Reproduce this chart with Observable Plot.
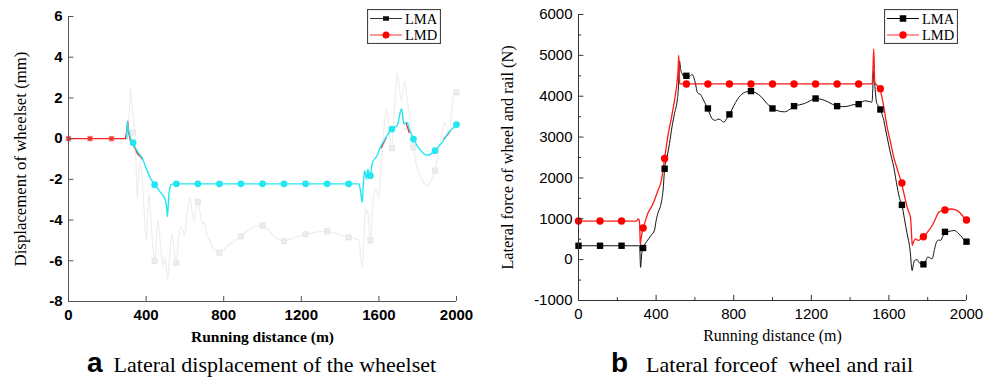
<!DOCTYPE html>
<html><head><meta charset="utf-8">
<script src="https://cdn.jsdelivr.net/npm/d3@7"></script>
<script src="https://cdn.jsdelivr.net/npm/@observablehq/plot@0.6"></script>
<style>
body{margin:0;background:#fff}
#root{position:relative;width:994px;height:379px;overflow:hidden;background:#fff}
.cap{position:absolute;display:flex;align-items:baseline;white-space:pre;line-height:1;color:#000}
.cap .l{font-family:"Liberation Sans",Arial,sans-serif;font-weight:bold;font-size:28px}
.cap .t{font-family:"Liberation Serif","Times New Roman",serif;font-size:22px}
</style></head>
<body><div id="root"></div>
<script>
// ---------- shared ----------
const xTicks = [0, 400, 800, 1200, 1600, 2000];
const xMinorB = [200, 600, 1000, 1400, 1800];
const markerX = [0, 111, 222, 333, 444, 556, 667, 778, 889, 1000, 1111, 1222, 1333, 1444, 1556, 1667, 1778, 1889, 2000];
const seriesNames = ["LMA", "LMD"];

// ---------- panel a: lateral displacement of the wheelset (mm) ----------
const dispTicks = [-8, -6, -4, -2, 0, 2, 4, 6];
const dispLmaX = [0,111,222,300,308,314,320,328,340,348,354,362,371,380,390,402,408,414,424,434,444,452,460,468,478,488,496,504,512,520,527,534,544,555,566,577,588,598,610,625,636,646,656,667,678,689,700,715,730,745,760,778,800,830,860,889,920,955,1000,1030,1060,1093,1111,1150,1190,1222,1270,1333,1390,1444,1475,1497,1506,1514,1522,1531,1537,1543,1550,1556,1565,1574,1587,1600,1608,1617,1628,1639,1651,1660,1667,1674,1680,1688,1694,1702,1715,1724,1732,1742,1754,1766,1778,1796,1814,1834,1852,1870,1889,1905,1918,1930,1940,1950,1960,1972,1983,1992,2000];
const dispLmaY = [0,0,0,0,0.4,1.6,2.5,1.5,0.5,-1.2,-3.0,-1.8,-1.1,-2.0,-3.5,-5.0,-3.8,-2.7,-3.8,-5.2,-6.0,-5.2,-4.0,-4.6,-5.6,-6.3,-5.8,-6.3,-6.9,-6.0,-5.0,-4.7,-5.4,-6.1,-5.0,-4.3,-4.5,-4.8,-3.8,-2.9,-3.5,-4.0,-3.5,-3.1,-3.6,-4.2,-4.1,-4.8,-5.0,-5.4,-5.5,-5.6,-5.45,-5.2,-5.0,-4.8,-4.55,-4.35,-4.27,-4.5,-4.8,-5.0,-5.04,-4.9,-4.8,-4.7,-4.6,-4.55,-4.7,-4.85,-4.9,-5.0,-5.8,-6.3,-5.0,-3.4,-3.7,-3.5,-4.5,-5.0,-3.8,-2.7,-2.5,-2.9,-1.8,-0.6,0.7,1.46,0.55,-0.2,-0.46,0.4,1.37,2.5,3.25,2.8,1.86,2.3,2.84,2.2,1.37,0.4,-0.43,-1.4,-1.9,-2.2,-2.36,-2.0,-1.57,-0.8,-0.1,0.5,0.8,0.5,0.15,1.0,2.03,2.3,2.27];
const dispLmaMarkers = [0,0,0,0.3,-6.0,-6.1,-3.1,-5.6,-4.8,-4.27,-5.04,-4.7,-4.55,-4.85,-5.0,-0.46,-0.43,-1.57,2.27];

const dispLmdX = [0,294,300,305,309,314,320,333,345,356,368,380,null,1612,1625,1637,null,1740,1748,1756,null,1935,1950,1965];
const dispLmdY = [0,0,0.35,0.85,0.4,0.1,-0.15,-0.3,-0.5,-0.75,-0.85,-1.0,NaN,-0.45,-0.2,0.05,NaN,0.75,0.55,0.3,NaN,0.0,0.15,0.35];
const dispLmdMarkerX = [0, 111, 222];
const dispLmdMarkers = [0, 0, 0];

const dispCyanX = [300,303,308,315,322,333,345,354,368,380,392,405,420,432,444,460,474,488,500,506,510,514,518,522,530,543,1497,1505,1514,1520,1526,1531,1536,1543,1550,1556,1565,1578,1591,1604,1617,1630,1643,1656,1667,1680,1694,1702,1708,1717,1723,1729,1738,1746,1754,1766,1778,1797,1815,1832,1846,1858,1872,1889,1908,1926,1943,1960,1980,2000];
const dispCyanY = [0,0.85,0.5,0.2,-0.05,-0.2,-0.45,-0.6,-0.8,-0.95,-1.25,-1.57,-1.9,-2.1,-2.26,-2.45,-2.64,-2.8,-3.05,-3.4,-3.83,-3.3,-2.7,-2.45,-2.25,-2.22,-2.22,-2.55,-3.13,-2.2,-1.57,-1.75,-1.98,-1.5,-1.7,-1.82,-1.24,-1.0,-0.84,-0.5,-0.26,-0.05,0.15,0.35,0.47,0.55,0.65,0.9,1.21,1.46,1.1,0.72,0.78,0.8,0.55,0.25,-0.02,-0.34,-0.58,-0.75,-0.8,-0.8,-0.72,-0.59,-0.38,-0.18,0.06,0.31,0.5,0.69];
const dispCyanMarkerX = markerX.slice(3);
const dispCyanMarkers = [-0.2,-2.26,-2.22,-2.22,-2.22,-2.22,-2.22,-2.22,-2.22,-2.22,-2.22,-1.82,0.47,-0.02,-0.59,0.69];

// ---------- panel b: lateral force of wheel and rail (N) ----------
const forceTicks = [-1000, 0, 1000, 2000, 3000, 4000, 5000, 6000];
const forceMinor = [-500, 500, 1500, 2500, 3500, 4500, 5500];
const forceLmaX = [0,315,320,326,333,345,357,375,392,400,409,426,436,444,456,469,482,495,509,515,521,527,534,545,555,570,586,595,603,612,620,628,637,650,667,678,689,698,706,718,732,742,749,765,778,801,835,860,889,915,942,970,1000,1030,1062,1090,1111,1140,1165,1195,1222,1255,1285,1310,1333,1360,1388,1415,1444,1474,1490,1503,1510,1514,1518,1522,1527,1536,1546,1556,1565,1574,1582,1593,1605,1625,1643,1655,1667,1680,1694,1704,1711,1716,1720,1726,1732,1746,1753,1760,1768,1778,1790,1800,1806,1815,1823,1835,1845,1856,1866,1878,1889,1910,1935,1948,1960,1975,1986,2000];
const forceLmaY = [340,340,-190,150,285,400,480,600,725,950,1130,1380,1700,2225,2500,2844,3250,3578,3904,4200,4857,4650,4549,4480,4500,4480,4532,4450,4304,4100,4059,4050,3977,3850,3692,3550,3447,3420,3406,3440,3423,3380,3365,3460,3553,3773,4018,4100,4123,4080,3985,3830,3700,3640,3618,3680,3757,3790,3822,3890,3944,3920,3863,3800,3757,3745,3757,3790,3806,3887,3880,3863,3850,3900,4300,4613,4300,3854,3760,3675,3550,3406,3203,2950,2672,2263,1774,1500,1343,1000,633,400,143,-150,-265,-120,-20,0,-60,-87,-100,-118,-30,60,60,30,20,250,428,480,470,570,673,690,714,690,632,560,486,440];
const forceLmaMarkers = [340,340,340,285,2225,4500,3700,3555,4125,3700,3757,3944,3757,3806,3675,1340,-115,680,440];

const forceLmdX = [0,300,306,312,316,318,322,333,345,357,375,392,410,426,444,460,478,495,509,514,517,522,526,1510,1514,1518,1522,1527,1540,1553,1563,1574,1591,1608,1625,1645,1665,1680,1694,1704,1711,1716,1720,1728,1737,1746,1754,1765,1777,1800,1823,1840,1857,1875,1892,1920,1944,1966,1986,2000];
const forceLmdY = [945,945,1000,980,800,360,500,775,950,1130,1280,1460,1700,1910,2478,3007,3450,3904,4390,4700,5004,4311,4300,4300,4304,4700,5160,4343,4260,4182,4000,3732,3242,2880,2508,2190,1871,1570,1284,1150,1039,700,346,450,510,480,470,520,550,680,836,1000,1162,1200,1220,1240,1220,1150,1039,970];
const forceLmdMarkers = [945,945,945,775,2478,4300,4300,4300,4300,4300,4300,4300,4300,4300,4185,1875,560,1215,970];

// ---------- helpers ----------
const SERIF = "Liberation Serif, Times New Roman, serif";
const SANS = "Liberation Sans, Arial, sans-serif";
const pts = (xs, ys) => xs.map((x, i) => ({x: x == null ? NaN : x, y: ys[i]}));

function frameMarks({yDomain, yTicks, yMinor = [], xMinor = [], axisColor, tickWeight, xTitle, xTitleWeight, xTitleSize, yTitle, yTitleSize, yTitleDx}) {
  const yLen = (yDomain[1] - yDomain[0]);
  return [
    Plot.ruleY([yDomain[0]], {stroke: axisColor, strokeWidth: 1}),
    Plot.ruleX([0], {stroke: axisColor, strokeWidth: 1}),
    Plot.ruleX(xTicks, {x: d => d, y1: yDomain[0], y2: yDomain[0] + yLen * 0.018, stroke: axisColor}),
    Plot.ruleX(xMinor, {x: d => d, y1: yDomain[0], y2: yDomain[0] + yLen * 0.01, stroke: axisColor}),
    Plot.ruleY(yTicks, {y: d => d, x1: 0, x2: 2000 * 0.014, stroke: axisColor}),
    Plot.ruleY(yMinor, {y: d => d, x1: 0, x2: 2000 * 0.008, stroke: axisColor}),
    Plot.axisX(xTicks, {tickSize: 0, tickPadding: 8, fontSize: 15, fontWeight: tickWeight, fontFamily: SANS, fill: "#000", label: null, tickFormat: d => String(d)}),
    Plot.axisY(yTicks, {tickSize: 0, tickPadding: 6, fontSize: 15, fontWeight: tickWeight, fontFamily: SANS, fill: "#000", label: null, tickFormat: d => String(d)}),
    Plot.text([xTitle], {text: d => d, frameAnchor: "bottom", dy: 40, textAnchor: "middle", fontFamily: SERIF, fontSize: xTitleSize, fontWeight: xTitleWeight, fill: "#000"}),
    Plot.text([yTitle], {text: d => d, frameAnchor: "left", rotate: -90, dx: yTitleDx, textAnchor: "middle", fontFamily: SERIF, fontSize: yTitleSize, fill: "#000"})
  ];
}

const root = document.getElementById("root");
function place(el, left, top) {
  el.style.position = "absolute";
  el.style.left = left + "px";
  el.style.top = top + "px";
  root.appendChild(el);
}

// ---------- panel a ----------
const dispDomain = [-8, 6];
const plotA = Plot.plot({
  width: 494, height: 352,
  marginLeft: 68, marginRight: 38, marginTop: 16, marginBottom: 51,
  x: {domain: [0, 2000]}, y: {domain: dispDomain},
  style: {background: "transparent", overflow: "visible"},
  marks: [
    Plot.line(pts(dispLmaX, dispLmaY), {x: "x", y: "y", stroke: "#eeeeee", strokeWidth: 1.2, curve: "monotone-x"}),
    Plot.dot(pts(markerX, dispLmaMarkers), {x: "x", y: "y", symbol: "square", r: 2.9, fill: "#ededed", stroke: "#e2e2e2", strokeWidth: 0.8}),
    Plot.line(pts(dispLmdX, dispLmdY), {x: "x", y: "y", stroke: "#ff2020", strokeWidth: 1.3, curve: "linear"}),
    Plot.dot(pts(dispLmdMarkerX, dispLmdMarkers), {x: "x", y: "y", symbol: "square", r: 2.4, fill: "#ff3030", stroke: "#ff6060", strokeWidth: 0.6}),
    Plot.line(pts(dispCyanX, dispCyanY), {x: "x", y: "y", stroke: "#22e6f0", strokeWidth: 1.4, curve: "monotone-x"}),
    Plot.dot(pts(dispCyanMarkerX, dispCyanMarkers), {x: "x", y: "y", r: 3.4, fill: "#22e6f0", stroke: "none"}),
    ...frameMarks({yDomain: dispDomain, yTicks: dispTicks, axisColor: "#555", tickWeight: "bold",
      xTitle: "Running distance (m)", xTitleWeight: "bold", xTitleSize: 15.5,
      yTitle: "Displacement of wheelset (mm)", yTitleSize: 16.8, yTitleDx: -48})
  ]
});
place(plotA, 0, 0);

// ---------- panel b ----------
const forceDomain = [-1000, 6000];
const plotB = Plot.plot({
  width: 500, height: 351,
  marginLeft: 84, marginRight: 28, marginTop: 14, marginBottom: 51,
  x: {domain: [0, 2000]}, y: {domain: forceDomain},
  style: {background: "transparent", overflow: "visible"},
  marks: [
    Plot.line(pts(forceLmaX, forceLmaY), {x: "x", y: "y", stroke: "#111", strokeWidth: 1, curve: "monotone-x"}),
    Plot.line(pts(forceLmdX, forceLmdY), {x: "x", y: "y", stroke: "#ff1a1a", strokeWidth: 1.3, curve: "monotone-x"}),
    Plot.dot(pts(markerX, forceLmdMarkers), {x: "x", y: "y", r: 3.7, fill: "#ff0000", stroke: "none"}),
    Plot.dot(pts(markerX, forceLmaMarkers), {x: "x", y: "y", symbol: "square", r: 3.6, fill: "#000", stroke: "none"}),
    ...frameMarks({yDomain: forceDomain, yTicks: forceTicks, yMinor: forceMinor, xMinor: xMinorB, axisColor: "#333", tickWeight: "normal",
      xTitle: "Running distance (m)", xTitleWeight: "normal", xTitleSize: 16,
      yTitle: "Lateral force of wheel and rail (N)", yTitleSize: 16.3, yTitleDx: -71})
  ]
});
place(plotB, 494, 0);

// ---------- legends ----------
function legend(left, top, w, h, entries) {
  const svg = d3.create("svg").attr("width", w).attr("height", h);
  svg.append("rect").attr("x", 0.5).attr("y", 0.5).attr("width", w - 1).attr("height", h - 1)
    .attr("fill", "#fff").attr("stroke", "#444").attr("stroke-width", 1.2);
  entries.forEach((e, i) => {
    const cy = 9.5 + i * 16.5;
    const g = svg.append("g");
    g.append("line").attr("x1", 3).attr("x2", 35).attr("y1", cy).attr("y2", cy).attr("stroke", e.color).attr("stroke-width", 1);
    if (e.shape === "square") g.append("rect").attr("x", 19 - e.size / 2).attr("y", cy - e.sizeY / 2).attr("width", e.size).attr("height", e.sizeY).attr("fill", e.markColor);
    else g.append("circle").attr("cx", 19).attr("cy", cy).attr("r", e.size).attr("fill", e.markColor);
    g.append("text").attr("x", 38).attr("y", cy).attr("dy", "0.35em").attr("font-family", SERIF).attr("font-size", 14.5).attr("fill", "#000").text(e.label);
  });
  place(svg.node(), left, top);
}
legend(367, 9, 74, 35, [
  {label: seriesNames[0], color: "#333", markColor: "#111", shape: "square", size: 6, sizeY: 4.5},
  {label: seriesNames[1], color: "#ff3030", markColor: "#ff0000", shape: "circle", size: 3.5}
]);
legend(884, 9, 74, 35, [
  {label: seriesNames[0], color: "#000", markColor: "#000", shape: "square", size: 6.5, sizeY: 6.5},
  {label: seriesNames[1], color: "#ff3030", markColor: "#ff0000", shape: "circle", size: 3.7}
]);

// ---------- captions ----------
function caption(left, top, letter, text, gap) {
  const d = document.createElement("div");
  d.className = "cap";
  d.innerHTML = `<span class="l"></span><span class="t"></span>`;
  d.children[0].textContent = letter;
  d.children[1].textContent = text;
  d.children[1].style.marginLeft = gap + "px";
  place(d, left, top);
}
caption(87, 349, "a", "Lateral displacement of the wheelset", 11);
caption(611, 349, "b", "Lateral forceof  wheel and rail", 18);
</script>
</body></html>
